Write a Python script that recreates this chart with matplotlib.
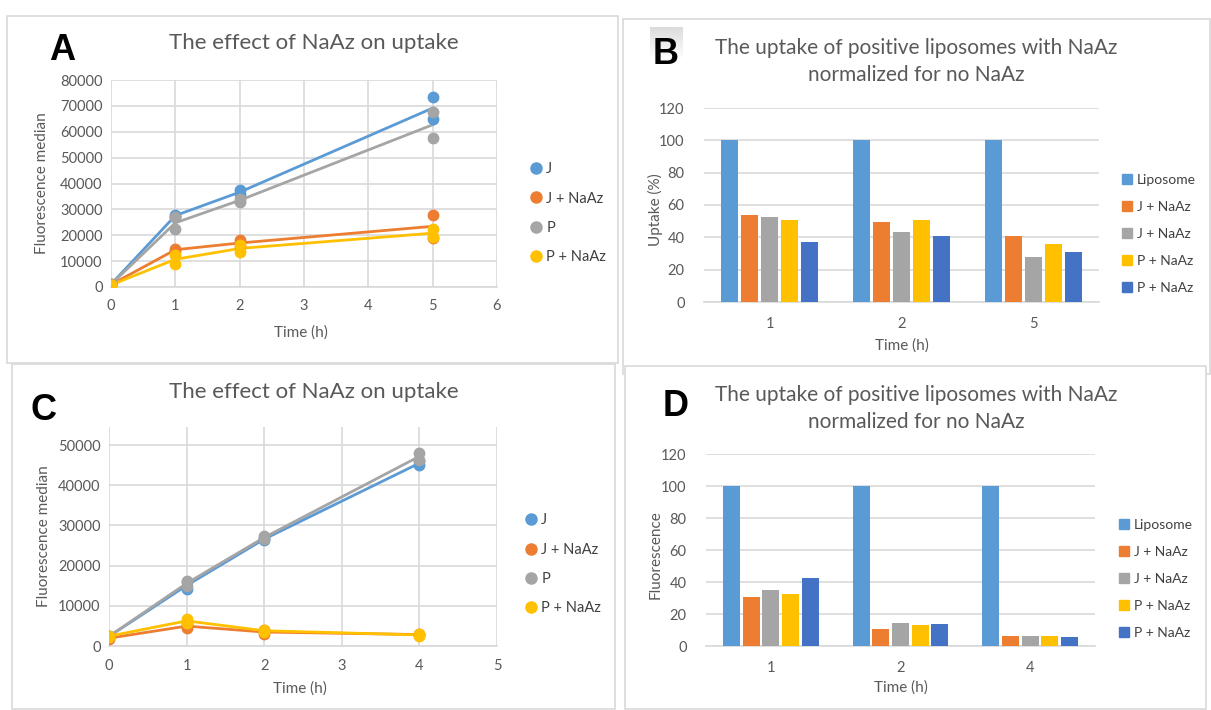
import numpy as np
import matplotlib
matplotlib.use("Agg")
import matplotlib.pyplot as plt
from matplotlib.patches import Rectangle, Patch
from matplotlib.lines import Line2D

plt.rcParams['font.family'] = ['Lato', 'DejaVu Sans']

# ---- data ----
series_names = ['J', 'J + NaAz', 'P', 'P + NaAz']
line_colors = ['#5B9BD5', '#ED7D31', '#A5A5A5', '#FFC000']

# panel A: two replicates per condition
times_A = [0, 1, 2, 5]
J_A_rep1 = [1200, 28000, 37300, 73500]
J_A_rep2 = [900, 27200, 36000, 64800]
JN_A_rep1 = [1000, 14800, 18200, 27900]
JN_A_rep2 = [800, 14000, 15800, 19000]
P_A_rep1 = [1100, 27200, 34200, 67800]
P_A_rep2 = [900, 22400, 32800, 57600]
PN_A_rep1 = [900, 12400, 16200, 22400]
PN_A_rep2 = [700, 9000, 13600, 19200]

# panel C
times_C = [0, 1, 2, 4]
J_C_rep1 = [2600, 14100, 26400, 45000]
J_C_rep2 = [2200, 16000, 26800, 46000]
JN_C_rep1 = [2200, 5400, 3900, 3000]
JN_C_rep2 = [1700, 4500, 3050, 2700]
P_C_rep1 = [2500, 16200, 27300, 48000]
P_C_rep2 = [2300, 15000, 26700, 46400]
PN_C_rep1 = [2600, 6800, 4000, 2900]
PN_C_rep2 = [2300, 5700, 3600, 2600]

# bar panels
bar_names = ['Liposome', 'J + NaAz', 'J + NaAz', 'P + NaAz', 'P + NaAz']
bar_colors = ['#5B9BD5', '#ED7D31', '#A5A5A5', '#FFC000', '#4472C4']

groups_B = ['1', '2', '5']
lipo_B = [100, 100, 100]
jn1_B = [53.6, 49.5, 40.6]
jn2_B = [52.4, 43.1, 28.0]
pn1_B = [50.9, 50.5, 35.9]
pn2_B = [37.3, 40.6, 30.9]

groups_D = ['1', '2', '4']
lipo_D = [100, 100, 100]
jn1_D = [30.7, 10.4, 6.5]
jn2_D = [34.7, 14.6, 6.5]
pn1_D = [32.2, 13.4, 6.1]
pn2_D = [42.2, 13.8, 5.6]

W, H = 1211, 710
GRID = '#D9D9D9'
TXT = '#595959'

fig = plt.figure(figsize=(W / 100, H / 100), dpi=100)
fig.patch.set_facecolor('white')


def fx(x):
    return x / W


def fy(y):
    return 1 - y / H


def px_axes(left, top, right, bottom):
    return fig.add_axes([fx(left), fy(bottom), (right - left) / W, (bottom - top) / H])


def frame(left, top, right, bottom):
    fig.add_artist(Rectangle((fx(left), fy(bottom)), (right - left) / W, (bottom - top) / H,
                             transform=fig.transFigure, facecolor='white',
                             edgecolor=GRID, lw=1.2, zorder=0))


def style_axes(ax):
    for s in ['top', 'right', 'left']:
        ax.spines[s].set_visible(False)
    ax.spines['bottom'].set_color(GRID)
    ax.spines['bottom'].set_linewidth(1.2)
    ax.tick_params(length=0, colors=TXT, labelsize=10.5)
    ax.set_axisbelow(True)


def line_panel(box, ax_box, times, reps, xmax, ymax, ytop, title, letter, letter_xy,
               title_xy, ylab_x, xlab_y, leg_xy):
    frame(*box)
    ax = px_axes(*ax_box)
    style_axes(ax)
    ax.grid(True, color=GRID, lw=1.2)
    for (r1, r2), c in zip(reps, line_colors):
        ax.plot(times, np.mean([r1, r2], axis=0), color=c, lw=2, zorder=3)
    for (r1, r2), c in zip(reps, line_colors):
        ax.plot(times, r1, 'o', color=c, ms=7.5, zorder=4)
        ax.plot(times, r2, 'o', color=c, ms=7.5, zorder=4)
    ax.set_xlim(0, xmax)
    ax.set_ylim(0, ytop)
    ax.set_xticks(range(0, xmax + 1))
    ax.set_yticks(range(0, ymax + 1, 10000))
    ax.tick_params(axis='x', pad=9)
    ax.tick_params(axis='y', pad=6)
    fig.text(fx(title_xy[0]), fy(title_xy[1]), title, ha='center', va='center',
             fontsize=16, color=TXT)
    fig.text(fx(letter_xy[0]), fy(letter_xy[1]), letter, ha='center', va='center',
             fontsize=26, fontweight='bold', family='Liberation Sans')
    fig.text(fx(ylab_x), fy((ax_box[1] + ax_box[3]) / 2), 'Fluorescence median',
             rotation=90, ha='center', va='center', fontsize=11, color=TXT)
    fig.text(fx((ax_box[0] + ax_box[2]) / 2 - 3), fy(xlab_y), 'Time (h)',
             ha='center', va='center', fontsize=11, color=TXT)
    handles = [Line2D([], [], marker='o', ls='none', color=c, ms=8) for c in line_colors]
    fig.legend(handles, series_names, loc='upper left',
               bbox_to_anchor=(fx(leg_xy[0]), fy(leg_xy[1])), frameon=False,
               fontsize=10.5, labelcolor='#404040', handletextpad=0.1,
               labelspacing=1.05, handlelength=1.2, borderpad=0)
    return ax


def bar_panel(box, ax_box, groups, values, ylab, title_lines, letter, letter_xy,
              title_x, title_ys, ylab_x, xlab_y, leg_xy):
    frame(*box)
    ax = px_axes(*ax_box)
    style_axes(ax)
    ax.grid(True, axis='y', color=GRID, lw=1.2)
    x = np.arange(len(groups))
    slot, width = 0.152, 0.13
    for i, (vals, c) in enumerate(zip(values, bar_colors)):
        ax.bar(x + (i - 2) * slot, vals, width=width, color=c, zorder=3)
    ax.set_xlim(-0.5, len(groups) - 0.5)
    ax.set_ylim(0, 120)
    ax.set_yticks(range(0, 121, 20))
    ax.set_xticks(x)
    ax.set_xticklabels(groups)
    ax.tick_params(axis='x', pad=11)
    ax.tick_params(axis='y', pad=14)
    for line, ty in zip(title_lines, title_ys):
        fig.text(fx(title_x), fy(ty), line, ha='center', va='center',
                 fontsize=15, color=TXT)
    fig.text(fx(letter_xy[0]), fy(letter_xy[1]), letter, ha='center', va='center',
             fontsize=26, fontweight='bold', family='Liberation Sans', zorder=5)
    fig.text(fx(ylab_x), fy((ax_box[1] + ax_box[3]) / 2 + 5), ylab,
             rotation=90, ha='center', va='center', fontsize=11, color=TXT)
    fig.text(fx((ax_box[0] + ax_box[2]) / 2), fy(xlab_y), 'Time (h)',
             ha='center', va='center', fontsize=11, color=TXT)
    handles = [Patch(color=c) for c in bar_colors]
    fig.legend(handles, bar_names, loc='upper left',
               bbox_to_anchor=(fx(leg_xy[0]), fy(leg_xy[1])), frameon=False,
               fontsize=10, labelcolor='#404040', handletextpad=0.3,
               labelspacing=1.08, handlelength=0.75, handleheight=0.75, borderpad=0)
    return ax


# panel A
line_panel((7, 16, 618, 363), (111, 80, 497, 287), times_A,
           [(J_A_rep1, J_A_rep2), (JN_A_rep1, JN_A_rep2),
            (P_A_rep1, P_A_rep2), (PN_A_rep1, PN_A_rep2)],
           6, 80000, 80000, 'The effect of NaAz on uptake', 'A', (62, 50),
           (314, 43), 42, 333, (520, 155))

# panel C
line_panel((12, 364, 615, 709), (109, 427, 497, 646), times_C,
           [(J_C_rep1, J_C_rep2), (JN_C_rep1, JN_C_rep2),
            (P_C_rep1, P_C_rep2), (PN_C_rep1, PN_C_rep2)],
           5, 50000, 54500, 'The effect of NaAz on uptake', 'C', (44, 411),
           (314, 392), 44, 689, (515, 506))

# panel B (light gradient behind the letter)
gax = px_axes(650, 27, 683, 60)
gax.imshow(np.linspace(0.86, 1.0, 50).reshape(-1, 1), cmap='gray', vmin=0, vmax=1,
           aspect='auto', extent=(0, 1, 0, 1))
gax.axis('off')
bar_panel((623, 19, 1210, 374), (704, 108, 1099, 302), groups_B,
          [lipo_B, jn1_B, jn2_B, pn1_B, pn2_B], 'Uptake (%)',
          ['The uptake of positive liposomes with NaAz', 'normalized for no NaAz'],
          'B', (666, 55), 916, (48, 75), 655, 346, (1115, 167))

# panel D
bar_panel((625, 366, 1206, 709), (706, 454, 1095, 646), groups_D,
          [lipo_D, jn1_D, jn2_D, pn1_D, pn2_D], 'Fluorescence',
          ['The uptake of positive liposomes with NaAz', 'normalized for no NaAz'],
          'D', (676, 407), 916, (395, 422), 656, 688, (1112, 512))

fig.savefig('out.png', dpi=100, facecolor='white')
